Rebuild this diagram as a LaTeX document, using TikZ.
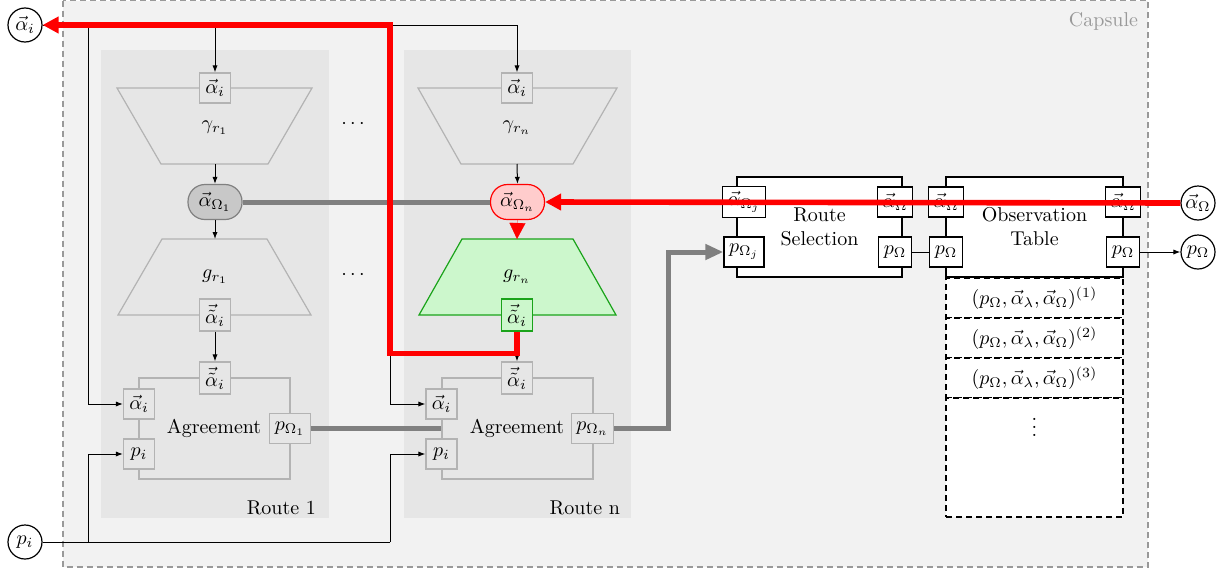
\documentclass[tikz,border=0pt]{standalone}
\usetikzlibrary{arrows.meta}
\definecolor{capfill}{HTML}{F2F2F2}
\definecolor{capline}{HTML}{999999}
\definecolor{routefill}{HTML}{E6E6E6}
\definecolor{boxgray}{HTML}{B3B3B3}
\definecolor{pillfill}{HTML}{C8C8C8}
\definecolor{pilldraw}{HTML}{808080}
\definecolor{thickgray}{HTML}{808080}
\definecolor{greenfill}{HTML}{CCF7CC}
\definecolor{greendraw}{HTML}{1AA31A}
\definecolor{redfill}{HTML}{FFCCCC}
\begin{document}
\begin{tikzpicture}[x=0.5pt,y=-0.5pt,
  thinarrow/.style={-{Latex[length=3.5pt,width=2.6pt]}, line width=0.5pt},
  thinline/.style={line width=0.5pt},
  gbox/.style={draw=boxgray, fill=routefill, line width=0.6pt, inner sep=2.5pt, minimum width=15.5pt, minimum height=15pt},
  grnbox/.style={draw=greendraw, fill=greenfill, line width=0.6pt, inner sep=2.5pt, minimum width=15.5pt, minimum height=15pt},
  bbox/.style={draw=black, fill=white, line width=0.7pt, inner sep=2.5pt, minimum width=16pt, minimum height=15pt},
  gtrap/.style={draw=boxgray, fill=routefill, line width=0.6pt},
  grntrap/.style={draw=greendraw, fill=greenfill, line width=0.6pt},
  agreebox/.style={draw=boxgray, fill=routefill, line width=0.6pt, minimum width=75.5pt, minimum height=50.5pt, inner sep=0pt},
  bigbox/.style={draw=black, fill=white, line width=0.7pt, minimum height=50pt, inner sep=0pt, align=center},
  graypill/.style={draw=pilldraw, fill=pillfill, line width=0.6pt, rounded corners=8.5pt, minimum width=27pt, minimum height=17.5pt, inner sep=1pt},
  redpill/.style={draw=red, fill=redfill, line width=0.6pt, rounded corners=8.5pt, minimum width=27pt, minimum height=17.5pt, inner sep=1pt},
  circ/.style={circle, draw=black, fill=white, line width=0.6pt, minimum size=17pt, inner sep=0pt},
  rowbox/.style={draw=black, dashed, dash pattern=on 3pt off 2pt, line width=0.6pt, fill=white, minimum width=88.5pt, inner sep=0pt},
  thickgrayline/.style={draw=thickgray, line width=2.5pt},
  redline/.style={draw=red, line width=2.8pt},
  redtip/.style={-{Triangle[length=8pt,width=8pt]}},
]
\useasboundingbox (0,0) rectangle (1225,568);
\fill[white] (0,0) rectangle (1225,568);
% capsule
\draw[capline, fill=capfill, dash pattern=on 3pt off 2pt, line width=0.6pt] (63,0.6) rectangle (1148,567);
\node[anchor=east, text=capline] (caplbl) at (1145,21) {Capsule};
% route backgrounds
\fill[routefill] (101,50) rectangle (329,518);
\fill[routefill] (404,50) rectangle (631,518);
\node[anchor=base east] (r1lbl) at (323,514) {Route 1};
\node[anchor=base east] (rnlbl) at (627,514) {Route n};
% dots
\node (dots1) at (353,124) {$\cdots$};
\node (dots2) at (353,275) {$\cdots$};
% trapezoids route 1
\draw[gtrap] (117,88) -- (312,88) -- (268,164) -- (161,164) -- cycle;
\coordinate (gam1b) at (215,164);
\draw[gtrap] (162,239) -- (267,239) -- (311,315) -- (118,315) -- cycle;
\coordinate (f1t) at (215,239);
% trapezoids route n
\draw[gtrap] (418,88) -- (617,88) -- (573,164) -- (461,164) -- cycle;
\coordinate (gamnb) at (517,164);
\draw[grntrap] (462,239) -- (573,239) -- (616,315) -- (419,315) -- cycle;
\coordinate (fnt) at (517,239);
% route 1 nodes
\node[gbox] (g1in) at (215,88) {$\vec{\alpha}_i$};
\node (g1lbl) at (215,128) {$\gamma_{r_1}$};
\node[graypill] (ao1) at (215,202) {$\vec{\alpha}_{\Omega_1}$};
\node (f1lbl) at (215,277) {$g_{r_1}$};
\node[gbox] (f1out) at (215,315) {$\vec{\tilde{\alpha}}_i$};
\node[agreebox] (ag1) at (214.5,428.5) {};
\node (ag1lbl) at (214,428) {Agreement};
\node[gbox] (ag1t) at (215,378) {$\vec{\tilde{\alpha}}_i$};
\node[gbox] (ag1a) at (139,404) {$\vec{\alpha}_i$};
\node[gbox] (ag1p) at (139,454) {$p_i$};
\node[gbox] (ag1o) at (290,428.5) {$p_{\Omega_1}$};
% route n nodes
\node[gbox] (gnin) at (517,88) {$\vec{\alpha}_i$};
\node (gnlbl) at (517,128) {$\gamma_{r_n}$};
\node[redpill] (aon) at (517.5,202) {$\vec{\alpha}_{\Omega_n}$};
\node (fnlbl) at (517,277) {$g_{r_n}$};
\node[grnbox] (fnout) at (517,315) {$\vec{\tilde{\alpha}}_i$};
\node[agreebox] (agn) at (517.5,428.5) {};
\node (agnlbl) at (517,428) {Agreement};
\node[gbox] (agnt) at (517,378) {$\vec{\tilde{\alpha}}_i$};
\node[gbox] (agna) at (441.5,404) {$\vec{\alpha}_i$};
\node[gbox] (agnp) at (441.5,454) {$p_i$};
\node[gbox] (agno) at (592.5,428.5) {$p_{\Omega_n}$};
% route selection
\node[bigbox, minimum width=82.5pt] (rs) at (819.5,227) {Route\\Selection};
\node[bbox] (rsa) at (744,202) {$\vec{\alpha}_{\Omega_j}$};
\node[bbox] (rsp) at (744,252) {$p_{\Omega_j}$};
\node[bbox] (rsao) at (895,202) {$\vec{\alpha}_{\Omega}$};
\node[bbox] (rspo) at (895,252) {$p_{\Omega}$};
% observation table
\node[rowbox, minimum height=20pt] (row1) at (1034.5,298) {$(p_\Omega,\vec{\alpha}_\lambda,\vec{\alpha}_\Omega)^{(1)}$};
\node[rowbox, minimum height=20pt] (row2) at (1034.5,338) {$(p_\Omega,\vec{\alpha}_\lambda,\vec{\alpha}_\Omega)^{(2)}$};
\node[rowbox, minimum height=20pt] (row3) at (1034.5,378) {$(p_\Omega,\vec{\alpha}_\lambda,\vec{\alpha}_\Omega)^{(3)}$};
\node[rowbox, minimum height=59.5pt] (row4) at (1034.5,457.5) {};
\node (rowdots) at (1034.5,421) {$\vdots$};
\node[bigbox, minimum width=88.5pt] (ot) at (1034.5,227) {Observation\\Table};
\node[bbox] (ota) at (946,202) {$\vec{\alpha}_{\Omega}$};
\node[bbox] (otp) at (946,252) {$p_{\Omega}$};
\node[bbox] (otao) at (1123,202) {$\vec{\alpha}_{\Omega}$};
\node[bbox] (otpo) at (1123,252) {$p_{\Omega}$};
% outer circles
\node[circ] (ai) at (25,25) {$\vec{\alpha}_i$};
\node[circ] (pi) at (25,542) {$p_i$};
\node[circ] (ao) at (1198,203) {$\vec{\alpha}_\Omega$};
\node[circ] (po) at (1198,252) {$p_\Omega$};
% coordinates for branches
\coordinate (v1) at (88,25);
\coordinate (v2) at (390,25);
\coordinate (w1) at (88,542);
\coordinate (w2) at (390,542);
\coordinate (gturn) at (668,428.5);
% gray thick lines
\draw[thickgrayline] (ao1.east) -- (aon.west);
\draw[thickgrayline] (ag1o.east) -- (agn.west);
\draw[thickgrayline, -{Triangle[length=9pt,width=7.5pt]}] (agno.east) -- (gturn) |- (rsp.west);
% black thin lines
\draw[thinline] (ai.east) -- (gnin.north |- ai.east);
\draw[thinarrow] (g1in.north |- ai.east) -- (g1in.north);
\draw[thinarrow] (gnin.north |- ai.east) -- (gnin.north);
\draw[thinarrow] (v1) |- (ag1a.west);
\draw[thinarrow] (v2) |- (agna.west);
\draw[thinline] (pi.east) -- (w2);
\draw[thinarrow] (w1) |- (ag1p.west);
\draw[thinarrow] (w2) |- (agnp.west);
\draw[thinarrow] (gam1b) -- (ao1.north);
\draw[thinarrow] (ao1.south) -- (f1t);
\draw[thinarrow] (f1out.south) -- (ag1t.north);
\draw[thinarrow] (gamnb) -- (aon.north);
\draw[thinarrow] (fnout.south) -- (agnt.north);
\draw[thinline] (rspo.east) -- (otp.west);
\draw[thinarrow] (otpo.east) -- (po.west);
% red lines
\draw[redline, redtip] (ao.west) -- (aon.east);
\draw[red, redtip, line width=0.1pt] (aon.south) -- (fnt);
\draw[redline, redtip] (fnout.south) -- ++(0,22) -| (v2) -- (ai.east);
\end{tikzpicture}
\end{document}
